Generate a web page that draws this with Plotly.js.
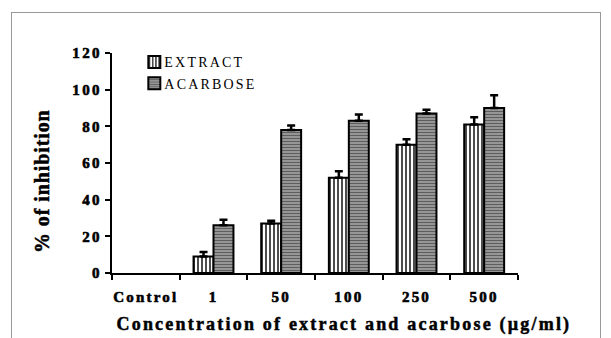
<!DOCTYPE html>
<html><head><meta charset="utf-8">
<script src="https://cdn.plot.ly/plotly-3.0.1.min.js"></script>
<style>
body{margin:0;}
#wrap{position:relative;width:611px;height:338px;}
#frame{position:absolute;left:11px;top:12px;width:588px;height:340px;border:1px solid #999;pointer-events:none;}
.xtick text{letter-spacing:2.2px;stroke:#000;stroke-width:0.6px;}
.ytick text{letter-spacing:2.4px;stroke:#000;stroke-width:0.6px;}
.annotation-text{stroke:#000;stroke-width:0.5px;}
.legendtext{letter-spacing:2.2px;transform:translateX(-10px);}
</style>
</head><body><div id="wrap"><div id="chart" style="width:611px;height:338px;"></div><div id="frame"></div></div>
<script>
const categories = ["Control", "1", "50", "100", "250", "500"];
const extractValues = [null, 9, 27, 52, 70, 81];
const extractErrors = [null, 2.5, 1.5, 3.5, 3, 4];
const acarboseValues = [null, 26, 78, 83, 87, 90];
const acarboseErrors = [null, 3, 2.5, 3.5, 2, 7];
const noErrors = [0, 0, 0, 0, 0, 0];
const xTitle = "Concentration of extract and acarbose (µg/ml)";
const yTitle = "% of inhibition";

const serif = "Liberation Serif, Times New Roman, serif";
const traces = [
  {type: "bar", name: "EXTRACT", x: categories, y: extractValues,
   marker: {color: "white", line: {color: "black", width: 2},
            pattern: {shape: "|", fgcolor: "black", bgcolor: "white", size: 4, solidity: 0.35}},
   error_y: {type: "data", symmetric: false, array: extractErrors, arrayminus: noErrors, color: "black", thickness: 2.5, width: 4}},
  {type: "bar", name: "ACARBOSE", x: categories, y: acarboseValues,
   marker: {color: "#888", line: {color: "black", width: 2},
            pattern: {shape: "-", fgcolor: "#5e5e5e", bgcolor: "#a8a8a8", size: 3, solidity: 0.5}},
   error_y: {type: "data", symmetric: false, array: acarboseErrors, arrayminus: noErrors, color: "black", thickness: 2.5, width: 4}}
];
const layout = {
  width: 611, height: 338,
  margin: {l: 112, r: 93, t: 53, b: 65},
  paper_bgcolor: "white", plot_bgcolor: "white",
  barmode: "group", bargap: 0.41, bargroupgap: 0,
  showlegend: true,
  legend: {x: 0.055, y: 1.03, xanchor: "left", yanchor: "top", bgcolor: "rgba(0,0,0,0)",
           font: {family: serif, size: 14, color: "black"}, itemwidth: 30},
  xaxis: {type: "category", showline: true, linecolor: "black", linewidth: 2,
          ticks: "outside", tickson: "boundaries", ticklen: 5, tickwidth: 2, tickcolor: "black",
          ticklabelstandoff: 9,
          tickfont: {family: serif, size: 15, color: "black", weight: "bold"}},
  yaxis: {range: [0, 120], dtick: 20, showgrid: false, zeroline: false,
          showline: true, linecolor: "black", linewidth: 2,
          ticks: "outside", ticklen: 5, tickwidth: 2, tickcolor: "black",
          tickfont: {family: serif, size: 15, color: "black", weight: "bold"}},
  annotations: [
    {text: xTitle, xref: "paper", yref: "paper", x: 0.572, y: -0.236, xanchor: "center", yanchor: "middle",
     showarrow: false, font: {family: serif, size: 18, color: "black", weight: "bold"}},
    {text: yTitle, xref: "paper", yref: "paper", x: -0.172, y: 0.418, xanchor: "center", yanchor: "middle",
     textangle: -90, showarrow: false, font: {family: serif, size: 20, color: "black", weight: "bold"}}
  ]
};
Plotly.newPlot("chart", traces, layout, {displayModeBar: false, staticPlot: true}).then(function(){
  document.querySelectorAll(".annotation-text").forEach(function(t){
    t.style.letterSpacing = (t.textContent === xTitle) ? "2.2px" : "0.9px";
  });
});
</script></body></html>
